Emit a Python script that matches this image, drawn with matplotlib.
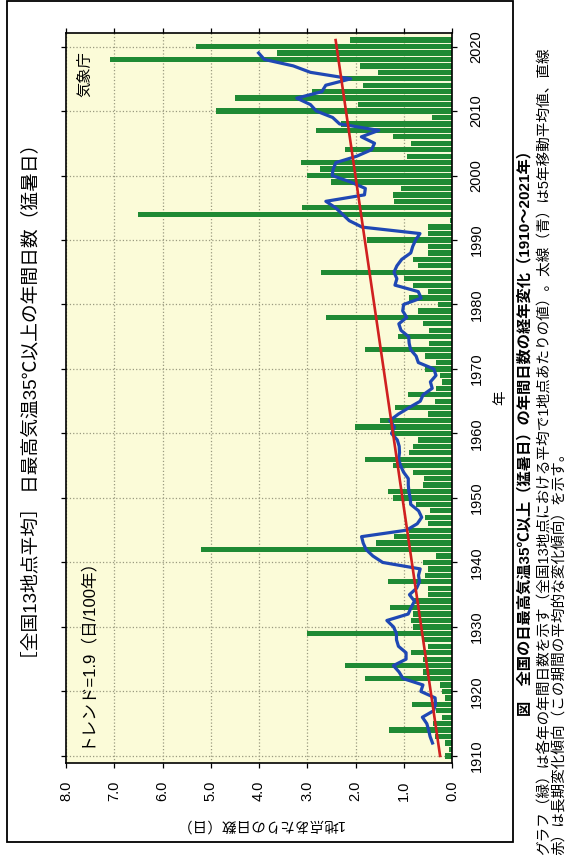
import numpy as np
import matplotlib.pyplot as plt
from matplotlib.patches import Rectangle

plt.rcParams['font.family'] = ['Liberation Sans', 'Noto Sans CJK JP', 'DejaVu Sans']

# annual days >= 35C, 13-station mean, 1910-2021
years = np.arange(1910, 2022)
days = [
    0.15, 0.06, 0.14, 0.36, 1.31, 0.40, 0.21, 0.33, 0.82, 0.15,
    0.20, 0.25, 1.81, 0.60, 2.22, 0.60, 0.84, 0.50, 0.60, 3.01,
    0.80, 0.85, 0.80, 1.29, 0.80, 0.50, 0.50, 1.32, 0.55, 0.50,
    0.60, 0.33, 5.20, 1.57, 1.20, 0.90, 0.50, 0.55, 0.45, 0.74,
    1.22, 1.32, 0.60, 0.59, 0.80, 1.22, 1.81, 0.90, 0.81, 0.70,
    1.25, 2.01, 1.50, 0.50, 1.19, 0.36, 0.91, 0.33, 0.20, 0.25,
    0.55, 0.33, 0.55, 1.81, 0.48, 1.12, 0.48, 0.60, 2.61, 0.70,
    0.30, 0.90, 0.50, 0.80, 1.00, 2.71, 0.70, 0.80, 0.50, 0.50,
    1.77, 0.50, 0.50, 0.05, 6.50, 3.10, 1.20, 1.22, 1.05, 2.50,
    3.01, 2.74, 3.12, 0.94, 2.22, 0.84, 1.22, 2.81, 2.30, 0.42,
    4.90, 1.94, 4.50, 2.91, 1.84, 2.30, 1.53, 1.91, 7.09, 3.62,
    5.30, 2.12,
]
value_ticks = [0, 1, 2, 3, 4, 5, 6, 7, 8]
value_labels = ['0.0', '1.0', '2.0', '3.0', '4.0', '5.0', '6.0', '7.0', '8.0']
year_ticks = list(range(1910, 2021, 10))

title = '［全国13地点平均］ 日最高気温35℃以上の年間日数（猛暑日）'
trend_text = 'トレンド=1.9（日/100年）'
caption1 = '図　全国の日最高気温35℃以上（猛暑日）の年間日数の経年変化（1910～2021年）'
caption2 = 'グラフ（緑）は各年の年間日数を示す（全国13地点における平均で1地点あたりの値）。太線（青）は5年移動平均値、直線'
caption3 = '赤）は長期変化傾向（この期間の平均的な変化傾向）を示す。'

days = np.array(days)
ma5 = np.convolve(days, np.ones(5) / 5, mode='valid')
coef = np.polyfit(years, days, 1)

W, H = 572, 855
fig = plt.figure(figsize=(W / 100, H / 100), dpi=100)

# chart is drawn rotated: years run bottom->top, values right->left
ax = fig.add_axes([66 / W, 1 - 763 / H, (452 - 66) / W, (763 - 33) / H])
ax.set_facecolor('#fbfbd8')
ax.barh(years, days, height=0.82, color='#1f8a34', zorder=2)
ax.plot(ma5, years[2:-2], color='#1f48b4', lw=2.3, zorder=4)
ends = years[[0, -1]]
ax.plot(np.polyval(coef, ends), ends, color='#d02020', lw=1.9, zorder=5)

ax.set_xlim(8, 0)
ax.set_ylim(1908.9, 2022.1)
ax.set_axisbelow(True)
ax.grid(True, linestyle=':', color='#9a9a80', lw=0.9)

ax.set_xticks(value_ticks)
ax.set_xticklabels(value_labels, rotation=90, ha='center', va='top', fontsize=10.5)
ax.set_yticks(year_ticks)
ax.set_yticklabels([str(y) for y in year_ticks], rotation=90, va='center', fontsize=10.5)
ax.xaxis.set_ticks_position('both')
ax.yaxis.set_ticks_position('both')
ax.yaxis.set_label_position('right')
ax.tick_params(axis='y', labelleft=False, labelright=True)
ax.tick_params(direction='out', length=3.6, width=0.9, pad=9)
for s in ax.spines.values():
    s.set_linewidth(1.2)

ax.set_xlabel('1地点あたりの日数（日）', rotation=180, fontsize=10.5, labelpad=12)
ax.set_ylabel('年', rotation=90, fontsize=10.5, labelpad=7)

fig.text(31 / W, 1 - 402 / H, title, rotation=90, ha='center', va='center', fontsize=13.5)
fig.text(85 / W, 1 - 747 / H, trend_text, rotation=90, ha='center', va='bottom', fontsize=12)
fig.text(85 / W, 1 - 97 / H, '気象庁', rotation=90, ha='center', va='bottom', fontsize=11)

fig.patches.append(Rectangle((7 / W, 1 - 842 / H), (513 - 7) / W, (842 - 1) / H,
                             transform=fig.transFigure, fill=False, lw=1.3, color='black'))

fig.text(525 / W, 1 - 430 / H, caption1, rotation=90, ha='center', va='center',
         fontsize=11, fontweight='bold')
fig.text(545 / W, 0.0, caption2, rotation=90, ha='center', va='bottom', fontsize=10.5)
fig.text(560 / W, 0.0, caption3, rotation=90, ha='center', va='bottom', fontsize=10.5)

fig.savefig('out.png', dpi=100)
